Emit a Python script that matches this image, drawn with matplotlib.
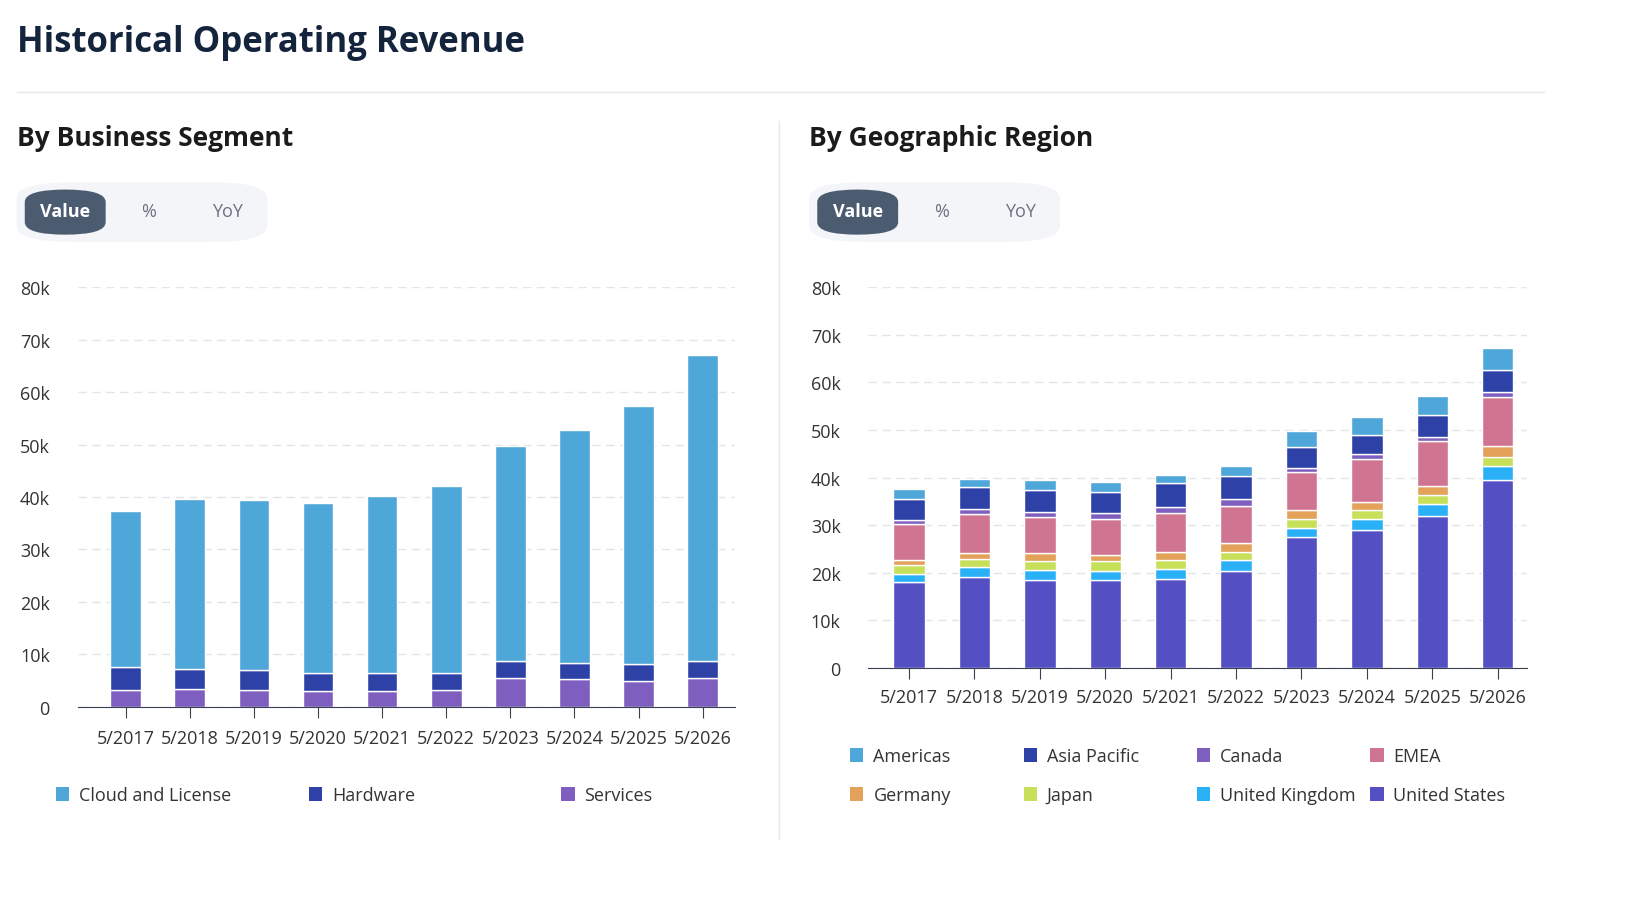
import numpy as np
import matplotlib.pyplot as plt
from matplotlib.patches import FancyBboxPatch

plt.rcParams['font.family'] = ['Open Sans', 'DejaVu Sans']

# Fiscal years
years = ['5/2017', '5/2018', '5/2019', '5/2020', '5/2021',
         '5/2022', '5/2023', '5/2024', '5/2025', '5/2026']
x = np.arange(len(years))

# Business segment (cumulative tops, in k)
serv_top  = np.array([3.2, 3.4, 3.2, 3.0, 3.0, 3.2, 5.5, 5.3, 5.0, 5.5])
hw_top    = np.array([7.6, 7.2, 7.0, 6.5, 6.5, 6.5, 8.8, 8.4, 8.2, 8.8])
total_seg = np.array([37.3, 39.6, 39.4, 38.9, 40.2, 42.1, 49.7, 52.8, 57.3, 67.0])

segments = {
    'Cloud and License': (total_seg - hw_top, '#4fa6d8'),
    'Hardware':          (hw_top - serv_top, '#2e41a6'),
    'Services':          (serv_top, '#7e5fbf'),
}
seg_order = ['Services', 'Hardware', 'Cloud and License']

# Geographic region (cumulative tops, bottom to top, in k)
geo_tops = np.array([
    [18.0, 19.8, 21.6, 22.8, 30.2, 31.1, 35.6, 37.6],
    [19.1, 21.2, 23.0, 24.2, 32.3, 33.5, 38.0, 39.7],
    [18.5, 20.6, 22.4, 24.2, 31.7, 32.7, 37.4, 39.4],
    [18.5, 20.3, 22.5, 23.8, 31.4, 32.5, 37.0, 39.0],
    [18.8, 20.8, 22.6, 24.4, 32.6, 33.9, 38.8, 40.6],
    [20.3, 22.6, 24.4, 26.3, 34.1, 35.6, 40.4, 42.4],
    [27.5, 29.5, 31.3, 33.2, 41.2, 42.1, 46.4, 49.7],
    [28.9, 31.3, 33.1, 34.9, 43.8, 44.9, 48.9, 52.8],
    [31.9, 34.5, 36.4, 38.2, 47.7, 48.6, 53.1, 57.2],
    [39.5, 42.4, 44.3, 46.6, 56.9, 58.0, 62.6, 67.2],
])
geo_names = ['United States', 'United Kingdom', 'Japan', 'Germany',
             'EMEA', 'Canada', 'Asia Pacific', 'Americas']
geo_colors = ['#5450c4', '#29b0f7', '#c6e05a', '#e3a15a',
              '#d07591', '#7e5fbf', '#2e41a6', '#4fa6d8']
geo_vals = np.diff(np.hstack([np.zeros((10, 1)), geo_tops]), axis=1)

fig = plt.figure(figsize=(16.51, 9.03), dpi=100)
fig.text(0.01, 0.952, 'Historical Operating Revenue', fontsize=25,
         fontweight='bold', color='#14243d', va='center')
fig.add_artist(plt.Line2D([0.01, 0.935], [0.897, 0.897], color='#e6e8ec', lw=1))
fig.add_artist(plt.Line2D([0.472, 0.472], [0.07, 0.865], color='#e6e8ec', lw=1))
fig.text(0.01, 0.847, 'By Business Segment', fontsize=19, fontweight='bold',
         color='#1b1b1b', va='center')
fig.text(0.49, 0.847, 'By Geographic Region', fontsize=19, fontweight='bold',
         color='#1b1b1b', va='center')

# Value / % / YoY toggles
for x0 in [0.01, 0.49]:
    fig.add_artist(FancyBboxPatch((x0, 0.731), 0.152, 0.066, boxstyle='round,pad=0,rounding_size=0.033',
                                  mutation_aspect=0.55, transform=fig.transFigure,
                                  fc='#f4f5f9', ec='none'))
    fig.add_artist(FancyBboxPatch((x0 + 0.005, 0.739), 0.049, 0.05, boxstyle='round,pad=0,rounding_size=0.025',
                                  mutation_aspect=0.55, transform=fig.transFigure,
                                  fc='#4c5c70', ec='none'))
    fig.text(x0 + 0.0295, 0.765, 'Value', fontsize=13, fontweight='bold', color='white',
             ha='center', va='center')
    fig.text(x0 + 0.080, 0.765, '%', fontsize=13, color='#6b7280', ha='center', va='center')
    fig.text(x0 + 0.128, 0.765, 'YoY', fontsize=13, color='#6b7280', ha='center', va='center')

# Left chart
ax1 = plt.axes([0.047, 0.216, 0.398, 0.465])
bottom = np.zeros(len(x))
for name in seg_order:
    vals, col = segments[name]
    ax1.bar(x, vals, 0.48, bottom=bottom, color=col, edgecolor='white', linewidth=1)
    bottom += vals
ax1.set_ylim(0, 80)
ax1.set_xlim(-0.75, 9.5)
ax1.set_yticks(range(0, 81, 10))
ax1.set_yticklabels(['0'] + ['%dk' % v for v in range(10, 81, 10)])
ax1.set_xticks(x)
ax1.set_xticklabels(years)
ax1.grid(axis='y', color='#e3e5e8', linestyle=(0, (6, 4)), lw=1)
ax1.set_axisbelow(True)
for s in ['top', 'right', 'left']:
    ax1.spines[s].set_visible(False)
ax1.spines['bottom'].set_color('#374151')
ax1.tick_params(axis='y', length=0, pad=20, labelsize=13, labelcolor='#333333')
ax1.tick_params(axis='x', length=8, color='#374151', labelsize=13, labelcolor='#333333', pad=8)

for i, name in enumerate(['Cloud and License', 'Hardware', 'Services']):
    lx = 0.034 + i * 0.153
    fig.add_artist(plt.Rectangle((lx, 0.112), 0.008, 0.015, transform=fig.transFigure,
                                 fc=segments[name][1], ec='none'))
    fig.text(lx + 0.014, 0.119, name, fontsize=13, color='#333333', va='center')

# Right chart
ax2 = plt.axes([0.526, 0.259, 0.399, 0.422])
bottom = np.zeros(len(x))
for j, name in enumerate(geo_names):
    ax2.bar(x, geo_vals[:, j], 0.48, bottom=bottom, color=geo_colors[j], edgecolor='white', linewidth=1)
    bottom += geo_vals[:, j]
ax2.set_ylim(0, 80)
ax2.set_xlim(-0.62, 9.45)
ax2.set_yticks(range(0, 81, 10))
ax2.set_yticklabels(['0'] + ['%dk' % v for v in range(10, 81, 10)])
ax2.set_xticks(x)
ax2.set_xticklabels(years)
ax2.grid(axis='y', color='#e3e5e8', linestyle=(0, (6, 4)), lw=1)
ax2.set_axisbelow(True)
for s in ['top', 'right', 'left']:
    ax2.spines[s].set_visible(False)
ax2.spines['bottom'].set_color('#374151')
ax2.tick_params(axis='y', length=0, pad=20, labelsize=13, labelcolor='#333333')
ax2.tick_params(axis='x', length=8, color='#374151', labelsize=13, labelcolor='#333333', pad=6)

leg_rows = [['Americas', 'Asia Pacific', 'Canada', 'EMEA'],
            ['Germany', 'Japan', 'United Kingdom', 'United States']]
for r, row in enumerate(leg_rows):
    for c, name in enumerate(row):
        lx = 0.515 + c * 0.105
        ly = 0.155 - r * 0.043
        fig.add_artist(plt.Rectangle((lx, ly), 0.008, 0.015, transform=fig.transFigure,
                                     fc=geo_colors[geo_names.index(name)], ec='none'))
        fig.text(lx + 0.014, ly + 0.007, name, fontsize=13, color='#333333', va='center')

plt.savefig('out.png', dpi=100)
